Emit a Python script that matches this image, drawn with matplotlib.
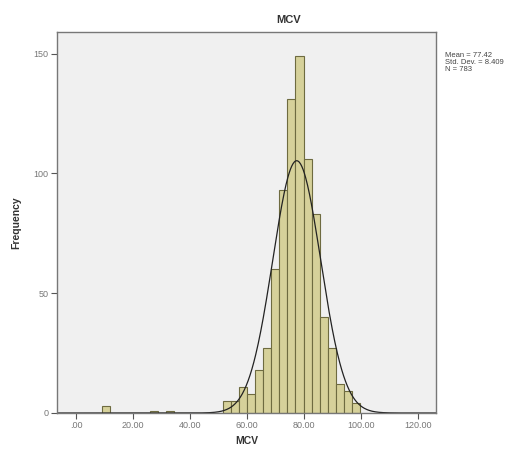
import numpy as np
import matplotlib
matplotlib.use("Agg")
import matplotlib.pyplot as plt

# ---- data ----
bin_start = 8.96
bin_width = 2.834
counts = [3, 0, 0, 0, 0, 0, 1, 0, 1, 0, 0, 0, 0, 0, 0,
          5, 5, 11, 8, 18, 27, 60, 93, 131, 149, 106, 83, 40, 27, 12, 9, 4]
mean_val = 77.42
sd_val = 8.409
n_val = 783
x_ticks = [0, 20, 40, 60, 80, 100, 120]
x_tick_labels = [".00", "20.00", "40.00", "60.00", "80.00", "100.00", "120.00"]
y_ticks = [0, 50, 100, 150]
title = "MCV"
x_label = "MCV"
y_label = "Frequency"

plt.rcParams['font.family'] = ['Liberation Sans', 'DejaVu Sans']

fig = plt.figure(figsize=(5.24, 4.54), dpi=100)
ax = fig.add_axes([57/524, 1-413/454, (436-57)/524, (413-32)/454])
ax.set_facecolor('#f0f0f0')

edges = bin_start + bin_width * np.arange(len(counts) + 1)
ax.bar(edges[:-1], counts, width=bin_width, align='edge',
       color='#d6d19a', edgecolor='#6e6b40', linewidth=0.8)

xs = np.linspace(-6.7, 126.3, 600)
ys = n_val * bin_width / (sd_val * np.sqrt(2 * np.pi)) * np.exp(-0.5 * ((xs - mean_val) / sd_val) ** 2)
ax.plot(xs, ys, color='#222222', linewidth=0.9)

ax.set_xlim(-6.7, 126.3)
ax.set_ylim(0, 159)
ax.set_xticks(x_ticks)
ax.set_xticklabels(x_tick_labels)
ax.set_yticks(y_ticks)
ax.tick_params(axis='both', direction='out', length=4, width=0.8, color='#555555',
               labelsize=6.5, labelcolor='#777777', pad=2)
for s in ax.spines.values():
    s.set_color('#777777')
    s.set_linewidth(1.0)

ax.set_xlabel(x_label, fontsize=7.5, fontweight='bold', color='#333333', labelpad=4)
ax.set_ylabel(y_label, fontsize=7.5, fontweight='bold', color='#333333', labelpad=9)
fig.text(289/524, 1-20/454, title, ha='center', va='center', fontsize=8,
         fontweight='bold', color='#333333')
fig.text(445/524, 1-52/454,
         f"Mean = {mean_val:.2f}\nStd. Dev. = {sd_val:.3f}\nN = {n_val}",
         ha='left', va='top', fontsize=5.5, color='#444444', linespacing=1.0)

fig.savefig('out.png', dpi=100, facecolor='white')
